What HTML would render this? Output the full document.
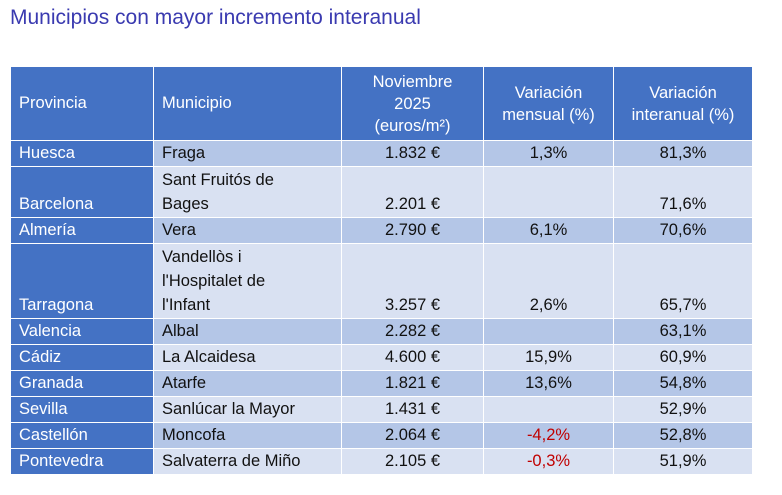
<!DOCTYPE html>
<html><head><meta charset="utf-8"><style>
body{margin:0;width:782px;height:495px;background:#fff;font-family:"Liberation Sans",sans-serif;overflow:hidden}
h1{position:absolute;left:10px;top:6px;margin:0;font-weight:normal;font-size:21px;color:#3a3ab0}
table{position:absolute;left:10px;top:66px;border-collapse:collapse;font-size:16.5px;color:#111}
td{border:1px solid #fff;padding:0 0 1px 8px;vertical-align:bottom;line-height:24px}
tr.h td{background:#4472C4;color:#fff;vertical-align:middle;line-height:22px;text-align:left}
tr.h td.c{text-align:center;padding:0}
td.p{background:#4472C4;color:#fff}
tr.a td.x{background:#B4C6E7}
tr.b td.x{background:#D9E1F2}
td.n{text-align:center;padding-left:0}
.r{color:#c00000}
</style></head><body>
<h1>Municipios con mayor incremento interanual</h1>
<table>
<colgroup><col style="width:143px"><col style="width:188px"><col style="width:142px"><col style="width:130px"><col style="width:139px"></colgroup>
<tr class="h" style="height:74px"><td>Provincia</td><td>Municipio</td><td class="c">Noviembre<br>2025<br>(euros/m²)</td><td class="c">Variación<br>mensual (%)</td><td class="c">Variación<br>interanual (%)</td></tr>
<tr class="a" style="height:25px"><td class="p">Huesca</td><td class="x">Fraga</td><td class="x n">1.832 €</td><td class="x n">1,3%</td><td class="x n">81,3%</td></tr>
<tr class="b" style="height:51px"><td class="p">Barcelona</td><td class="x">Sant Fruitós de<br>Bages</td><td class="x n">2.201 €</td><td class="x n"></td><td class="x n">71,6%</td></tr>
<tr class="a" style="height:25px"><td class="p">Almería</td><td class="x">Vera</td><td class="x n">2.790 €</td><td class="x n">6,1%</td><td class="x n">70,6%</td></tr>
<tr class="b" style="height:75px"><td class="p">Tarragona</td><td class="x">Vandellòs i<br>l'Hospitalet de<br>l'Infant</td><td class="x n">3.257 €</td><td class="x n">2,6%</td><td class="x n">65,7%</td></tr>
<tr class="a" style="height:25px"><td class="p">Valencia</td><td class="x">Albal</td><td class="x n">2.282 €</td><td class="x n"></td><td class="x n">63,1%</td></tr>
<tr class="b" style="height:25px"><td class="p">Cádiz</td><td class="x">La Alcaidesa</td><td class="x n">4.600 €</td><td class="x n">15,9%</td><td class="x n">60,9%</td></tr>
<tr class="a" style="height:25px"><td class="p">Granada</td><td class="x">Atarfe</td><td class="x n">1.821 €</td><td class="x n">13,6%</td><td class="x n">54,8%</td></tr>
<tr class="b" style="height:25px"><td class="p">Sevilla</td><td class="x">Sanlúcar la Mayor</td><td class="x n">1.431 €</td><td class="x n"></td><td class="x n">52,9%</td></tr>
<tr class="a" style="height:25px"><td class="p">Castellón</td><td class="x">Moncofa</td><td class="x n">2.064 €</td><td class="x n r">-4,2%</td><td class="x n">52,8%</td></tr>
<tr class="b" style="height:25px"><td class="p">Pontevedra</td><td class="x">Salvaterra de Miño</td><td class="x n">2.105 €</td><td class="x n r">-0,3%</td><td class="x n">51,9%</td></tr>
</table>
</body></html>
